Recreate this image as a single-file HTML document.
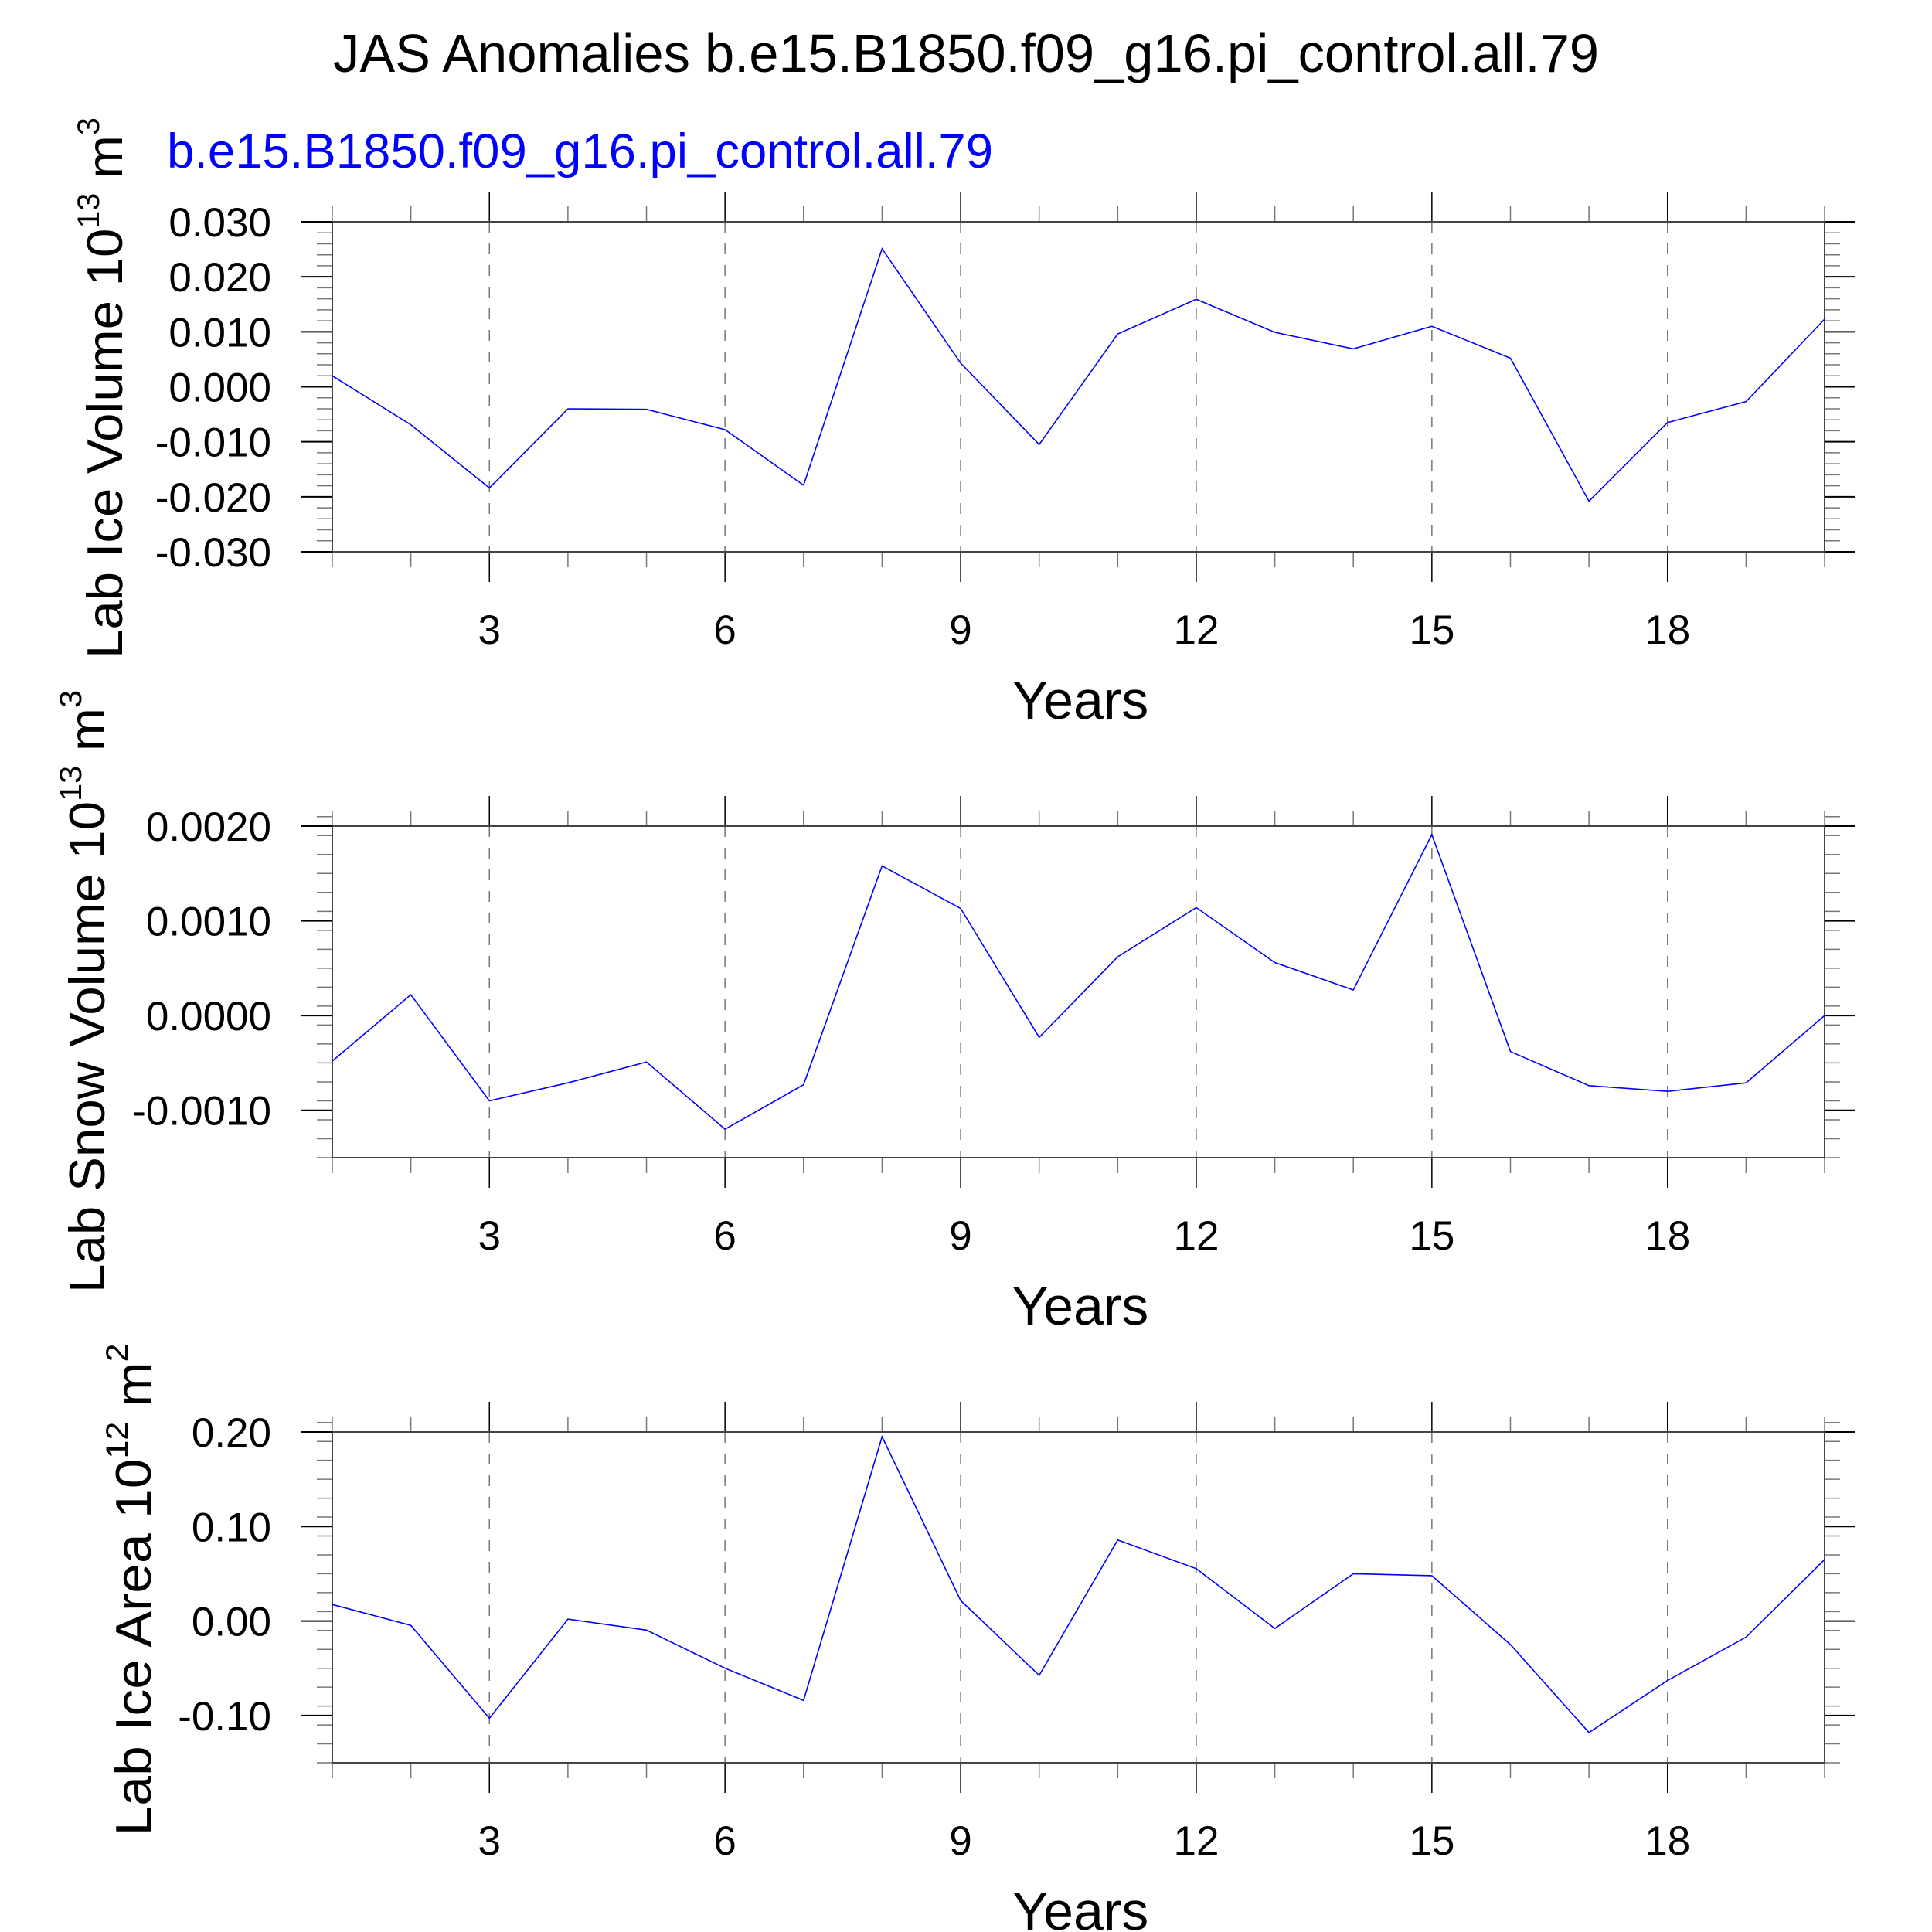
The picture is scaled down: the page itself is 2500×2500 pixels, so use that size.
<!DOCTYPE html>
<html><head><meta charset="utf-8"><style>
html,body{margin:0;padding:0;background:#fff}
svg{display:block}
text{font-family:"Liberation Sans",sans-serif}
</style></head><body>
<svg id="chart" width="2500" height="2500" viewBox="0 0 2500 2500" xmlns="http://www.w3.org/2000/svg">
<text x="431" y="93" font-size="70" textLength="1638" lengthAdjust="spacingAndGlyphs">JAS Anomalies b.e15.B1850.f09_g16.pi_control.all.79</text>
<text x="216" y="217" font-size="63" fill="#0000ff" textLength="1069" lengthAdjust="spacingAndGlyphs">b.e15.B1850.f09_g16.pi_control.all.79</text>
</svg>
<script>
const years = [1,2,3,4,5,6,7,8,9,10,11,12,13,14,15,16,17,18,19,20];
const iceVolume = [0.002,-0.0069,-0.0184,-0.004,-0.0041,-0.0078,-0.0179,0.0251,0.0043,-0.0105,0.0096,0.0159,0.0099,0.0069,0.0110,0.0052,-0.0208,-0.0065,-0.0027,0.0123];
const snowVolume = [-0.00048,0.00022,-0.0009,-0.00071,-0.00049,-0.0012,-0.00073,0.00158,0.00113,-0.00023,0.00062,0.00114,0.00056,0.00027,0.00191,-0.00038,-0.00074,-0.0008,-0.00071,0.0];
const iceArea = [0.0175,-0.0046,-0.103,0.002,-0.0096,-0.050,-0.084,0.195,0.0217,-0.0575,0.0858,0.0554,-0.0079,0.050,0.048,-0.025,-0.118,-0.063,-0.017,0.065];
const xTickLabels = ["3","6","9","12","15","18"];
const iceVolTicks = ["0.030","0.020","0.010","0.000","-0.010","-0.020","-0.030"];
const snowVolTicks = ["0.0020","0.0010","0.0000","-0.0010"];
const iceAreaTicks = ["0.20","0.10","0.00","-0.10"];

const NS = "http://www.w3.org/2000/svg";
const svg = document.getElementById('chart');
function mk(tag, attrs, parent){const e=document.createElementNS(NS,tag);for(const k in attrs)e.setAttribute(k,attrs[k]);(parent||svg).appendChild(e);return e;}

const X0=430, X1=2361;
function xs(v){return X0+(v-1)*(X1-X0)/19;}

const panels = [
 {name:'ice-volume', top:287, bot:714, ymin:-0.03, ymax:0.03, minor:0.002, ticks:iceVolTicks, data:iceVolume,
  title:['Lab Ice Volume 10','13',' m','3'], tx:158, tcy:502, tlen:700},
 {name:'snow-volume', top:1069, bot:1498, ymin:-0.0015, ymax:0.002, minor:0.0002, ticks:snowVolTicks, data:snowVolume,
  title:['Lab Snow Volume 10','13',' m','3'], tx:135, tcy:1283, tlen:780},
 {name:'ice-area', top:1853, bot:2281, ymin:-0.15, ymax:0.20, minor:0.02, ticks:iceAreaTicks, data:iceArea,
  title:['Lab Ice Area 10','12',' m','2'], tx:195, tcy:2057, tlen:637}
];

panels.forEach(p=>{
  const g = mk('g',{});
  
  
  const ys = v => p.bot-(v-p.ymin)*(p.bot-p.top)/(p.ymax-p.ymin);
  // grid
  xTickLabels.forEach(t=>{
    const l = mk('line',{x1:xs(+t),x2:xs(+t),y1:p.top,y2:p.bot,stroke:'#777','stroke-width':1.5,'stroke-dasharray':'14,14'},g);
    
    
  });
  // x ticks
  years.forEach(v=>{
    const major = v%3===0;
    const len = major?39:20;
    const c = major?'#000':'#777';
    mk('line',{x1:xs(v),x2:xs(v),y1:p.top,y2:p.top-len,stroke:c,'stroke-width':1.5},g);
    mk('line',{x1:xs(v),x2:xs(v),y1:p.bot,y2:p.bot+len,stroke:c,'stroke-width':1.5},g);
  });
  xTickLabels.forEach(t=>{
    const tx = mk('text',{x:xs(+t),y:p.bot+119,'font-size':53,'text-anchor':'middle'},g);
    tx.textContent=t;
    
    
  });
  // y minor ticks
  const nMin = Math.round((p.ymax-p.ymin)/p.minor);
  for(let i=0;i<=nMin;i++){
    const v=p.ymin+i*p.minor; const y=ys(v);
    mk('line',{x1:X0-20,x2:X0,y1:y,y2:y,stroke:'#777','stroke-width':1.5},g);
    mk('line',{x1:X1,x2:X1+20,y1:y,y2:y,stroke:'#777','stroke-width':1.5},g);
  }
  p.ticks.forEach(t=>{
    const y=ys(parseFloat(t));
    mk('line',{x1:X0-40,x2:X0,y1:y,y2:y,stroke:'#000','stroke-width':2},g);
    mk('line',{x1:X1,x2:X1+40,y1:y,y2:y,stroke:'#000','stroke-width':2},g);
    const tx=mk('text',{x:351,y:y+19,'font-size':53,'text-anchor':'end'},g);
    tx.textContent=t;
    
    
  });
  // box
  const box = mk('rect',{x:X0,y:p.top,width:X1-X0,height:p.bot-p.top,fill:'none',stroke:'#444','stroke-width':2},g);
  
  
  // series
  const pts = p.data.map((v,i)=>xs(years[i]).toFixed(1)+','+ys(v).toFixed(1)).join(' ');
  const line = mk('polyline',{points:pts,fill:'none',stroke:'#0000ff','stroke-width':1.6},g);
  
  
  // x title
  const xt = mk('text',{x:1398,y:p.bot+216,'font-size':70,'text-anchor':'middle'},g);
  xt.textContent='Years';
  
  
  // y title
  const yt = mk('text',{x:0,y:0,'font-size':65,'text-anchor':'middle',transform:`translate(${p.tx},${p.tcy}) rotate(-90)`,textLength:p.tlen,lengthAdjust:'spacingAndGlyphs'},g);
  
  
  const s1=mk('tspan',{},yt); s1.textContent=p.title[0];
  const s2=mk('tspan',{dy:-30,'font-size':40},yt); s2.textContent=p.title[1];
  const s3=mk('tspan',{dy:30},yt); s3.textContent=p.title[2];
  const s4=mk('tspan',{dy:-30,'font-size':40},yt); s4.textContent=p.title[3];
});
</script>
</body></html>
